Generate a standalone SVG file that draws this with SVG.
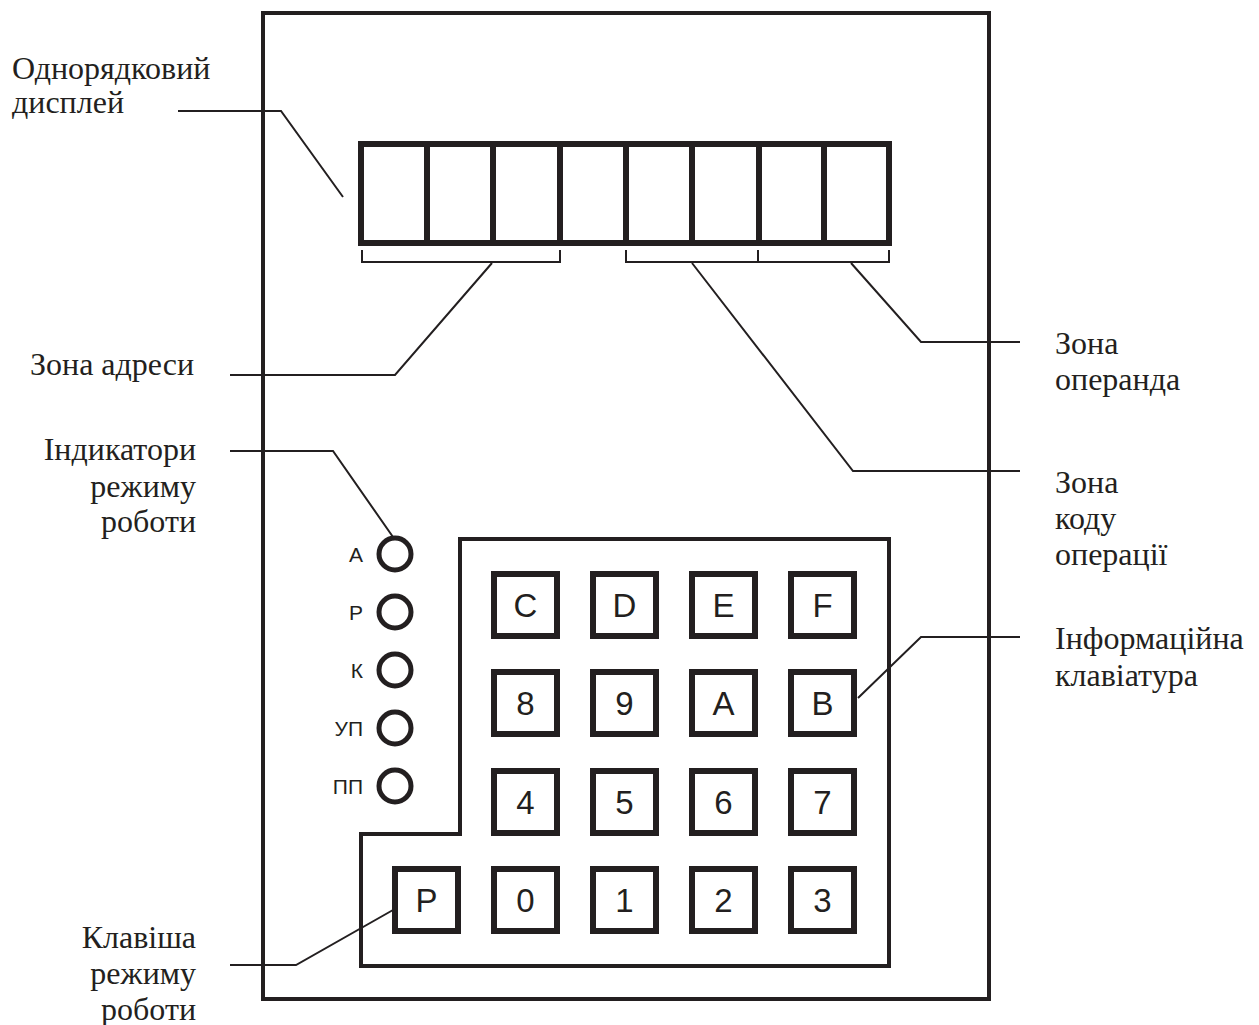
<svg xmlns="http://www.w3.org/2000/svg" width="1259" height="1025" viewBox="0 0 1259 1025">
<style>
.lbl{font-family:"Liberation Serif","Times New Roman",serif;font-size:32px;fill:#231f20}
.r{text-anchor:end}
.ind{font-family:"Liberation Sans",Arial,sans-serif;font-size:21px;fill:#231f20;text-anchor:end}
.key rect{fill:#fff;stroke:#231f20;stroke-width:6}
.key text{font-family:"Liberation Sans",Arial,sans-serif;font-size:33px;fill:#231f20;text-anchor:middle}
.lead{fill:none;stroke:#231f20;stroke-width:2}
.led{fill:none;stroke:#231f20;stroke-width:5}
</style>
<rect width="1259" height="1025" fill="#fff"/>
<g id="frame"><rect x="263" y="13" width="726" height="986" fill="none" stroke="#231f20" stroke-width="4"/></g>
<g id="display" fill="none" stroke="#231f20" stroke-width="6">
<rect x="361" y="144" width="528" height="99"/>
<path d="M427 144V243M493 144V243M560 144V243M626 144V243M692 144V243M759 144V243M824 144V243"/>
</g>
<g id="brackets" class="lead">
<path d="M362 250V262H560V250"/>
<path d="M626 250V262H889V250M758 250V262"/>
</g>
<g id="keypad-panel"><path d="M460 539H889V966H361V834H460Z" fill="none" stroke="#231f20" stroke-width="4"/></g>
<g id="indicators">
<circle class="led" cx="395" cy="554" r="16"/><text class="ind" x="363" y="562">A</text>
<circle class="led" cx="395" cy="612" r="16"/><text class="ind" x="363" y="620">P</text>
<circle class="led" cx="395" cy="670" r="16"/><text class="ind" x="363" y="678">К</text>
<circle class="led" cx="395" cy="728" r="16"/><text class="ind" x="363" y="736">УП</text>
<circle class="led" cx="395" cy="786" r="16"/><text class="ind" x="363" y="794">ПП</text>
</g>
<g id="keys">
<g class="key" id="key-C"><rect x="494" y="574" width="63" height="62"/><text x="525.5" y="617">C</text></g>
<g class="key" id="key-D"><rect x="593" y="574" width="63" height="62"/><text x="624.5" y="617">D</text></g>
<g class="key" id="key-E"><rect x="692" y="574" width="63" height="62"/><text x="723.5" y="617">E</text></g>
<g class="key" id="key-F"><rect x="791" y="574" width="63" height="62"/><text x="822.5" y="617">F</text></g>
<g class="key" id="key-8"><rect x="494" y="672" width="63" height="62"/><text x="525.5" y="715">8</text></g>
<g class="key" id="key-9"><rect x="593" y="672" width="63" height="62"/><text x="624.5" y="715">9</text></g>
<g class="key" id="key-A"><rect x="692" y="672" width="63" height="62"/><text x="723.5" y="715">A</text></g>
<g class="key" id="key-B"><rect x="791" y="672" width="63" height="62"/><text x="822.5" y="715">B</text></g>
<g class="key" id="key-4"><rect x="494" y="771" width="63" height="62"/><text x="525.5" y="814">4</text></g>
<g class="key" id="key-5"><rect x="593" y="771" width="63" height="62"/><text x="624.5" y="814">5</text></g>
<g class="key" id="key-6"><rect x="692" y="771" width="63" height="62"/><text x="723.5" y="814">6</text></g>
<g class="key" id="key-7"><rect x="791" y="771" width="63" height="62"/><text x="822.5" y="814">7</text></g>
<g class="key" id="key-P"><rect x="395" y="869" width="63" height="62"/><text x="426.5" y="912">P</text></g>
<g class="key" id="key-0"><rect x="494" y="869" width="63" height="62"/><text x="525.5" y="912">0</text></g>
<g class="key" id="key-1"><rect x="593" y="869" width="63" height="62"/><text x="624.5" y="912">1</text></g>
<g class="key" id="key-2"><rect x="692" y="869" width="63" height="62"/><text x="723.5" y="912">2</text></g>
<g class="key" id="key-3"><rect x="791" y="869" width="63" height="62"/><text x="822.5" y="912">3</text></g>
</g>
<g id="connectors" class="lead">
<path d="M178 111H281L343 197"/>
<path d="M230 375H395L492 263"/>
<path d="M230 451H333L393 537"/>
<path d="M1020 342H921L851 263"/>
<path d="M1020 471H853L692 263"/>
<path d="M1020 637H921L858 698"/>
<path d="M230 965H296L393 910"/>
</g>
<g id="labels">
<text class="lbl" x="12" y="79">Однорядковий</text>
<text class="lbl" x="12" y="113">дисплей</text>
<text class="lbl" x="30" y="375">Зона адреси</text>
<text class="lbl r" x="196" y="460">Індикатори</text>
<text class="lbl r" x="196" y="497">режиму</text>
<text class="lbl r" x="196" y="532">роботи</text>
<text class="lbl r" x="196" y="948">Клавіша</text>
<text class="lbl r" x="196" y="984">режиму</text>
<text class="lbl r" x="196" y="1020">роботи</text>
<text class="lbl" x="1055" y="354">Зона</text>
<text class="lbl" x="1055" y="390">операнда</text>
<text class="lbl" x="1055" y="493">Зона</text>
<text class="lbl" x="1055" y="529">коду</text>
<text class="lbl" x="1055" y="565">операції</text>
<text class="lbl" x="1055" y="649">Інформаційна</text>
<text class="lbl" x="1055" y="686">клавіатура</text>
</g>
</svg>
